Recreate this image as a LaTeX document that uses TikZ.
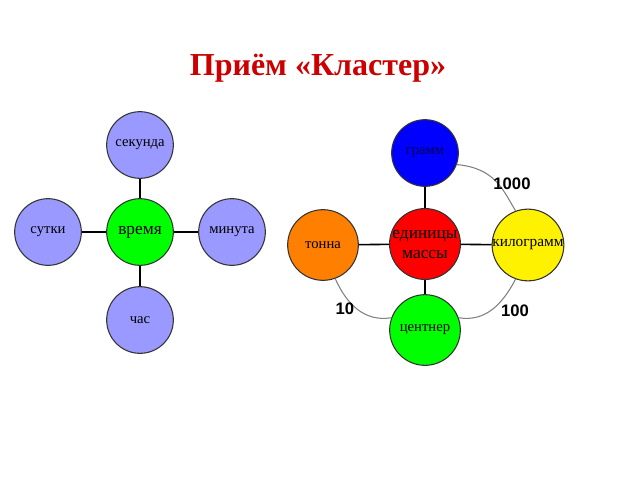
\documentclass[tikz,border=0pt]{standalone}
\usepackage{fontspec}
\setmainfont{Liberation Serif}
\newfontfamily\lsans{Liberation Sans}
\begin{document}
\begin{tikzpicture}[x=0.75pt,y=-0.75pt,
  circ/.style={circle,draw=black!80,line width=0.8pt,minimum size=50pt,inner sep=0pt,align=center,font=\fontsize{11}{12}\selectfont},
  big/.style={circ,minimum size=53pt},
  link/.style={line width=1.2pt},
  arc/.style={draw=gray,line width=0.8pt},
  num/.style={font=\lsans\bfseries\fontsize{12.5}{13}\selectfont}]
\useasboundingbox (0,0) rectangle (640,480);
\node[font=\bfseries\fontsize{24}{26}\selectfont,text=red!80!black] (title) at (318,68) {Приём «Кластер»};
% left cluster
\node[circ,fill=green] (time) at (140,232) {\fontsize{13}{14}\selectfont время};
\node[circ,fill=blue!40!white] (sec) at (140,145) {секунда};
\node[circ,fill=blue!40!white] (day) at (48,232) {сутки};
\node[circ,fill=blue!40!white] (min) at (232,232) {минута};
\node[circ,fill=blue!40!white] (hour) at (140,320) {час};
\foreach \n in {sec,day,min,hour} \draw[link] (time) -- (\n);
% right cluster
\node[big,fill=red,font=\fontsize{13}{15}\selectfont] (unit) at (425,244) {единицы\\массы};
\node[circ,fill=blue] (g) at (425,153) {\textcolor{black!70!blue}{грамм}};
\node[big,fill=orange] (t) at (323,245) {тонна};
\node[big,fill=yellow,font=\fontsize{11.5}{12}\selectfont] (kg) at (528,245) {килограмм};
\node[big,fill=green] (c) at (425,330) {центнер};
\foreach \n in {g,t,kg,c} \draw[link] (unit) -- (\n);
\draw[arc] (g.-20) .. controls (495,168) and (503,190) .. (kg.110);
\draw[arc] (kg.-110) .. controls (502,305) and (485,322) .. (c.20);
\draw[arc] (t.-70) .. controls (347,305) and (365,322) .. (c.160);
\node[num] (n1) at (512,184) {1000};
\node[num] (n2) at (515,311) {100};
\node[num] (n3) at (345,309) {10};
\end{tikzpicture}
\end{document}
